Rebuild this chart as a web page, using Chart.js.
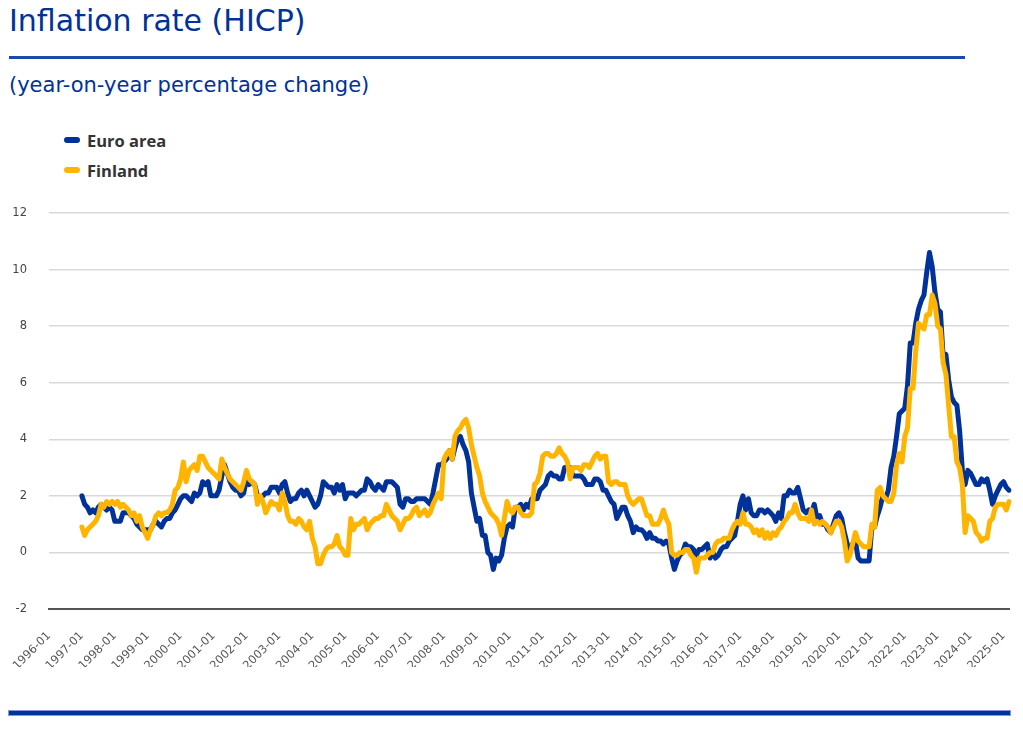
<!DOCTYPE html>
<html>
<head>
<meta charset="utf-8">
<script src="https://cdn.jsdelivr.net/npm/chart.js@4.4.1/dist/chart.umd.min.js"></script>
<style>
  html, body { margin:0; padding:0; background:#fff; width:1023px; height:732px; overflow:hidden; font-family:'DejaVu Sans', sans-serif; }
  #title { position:absolute; left:9px; top:6px; font-size:30px; line-height:1; color:#003299; white-space:nowrap; }
  #tline { position:absolute; left:9px; top:56px; width:956px; height:2.5px; background:#1c4aa8; }
  #sub { position:absolute; left:9px; top:75px; font-size:21px; line-height:1; color:#003299; white-space:nowrap; }
  .leg { position:absolute; left:64px; font-family:'Open Sans', sans-serif; font-size:16.5px; font-weight:bold; color:#333; white-space:nowrap; }
  .leg span.m { position:absolute; left:0; top:50%; width:16px; height:5.5px; margin-top:-2.75px; border-radius:3px; }
  .leg span.t { position:absolute; left:23px; top:50%; transform:translateY(-50%); }
  #chartbox { position:absolute; left:0; top:190px; width:1023px; height:477px; }
  #bline { position:absolute; left:9px; top:711px; width:1001px; height:4px; background:#003299; box-shadow:0 0 0 1px #7d9bd8; }
</style>
</head>
<body>
<div id="title">Inflation rate (HICP)</div>
<div id="tline"></div>
<div id="sub">(year-on-year percentage change)</div>
<div class="leg" style="top:130px;height:20px;width:120px"><span class="m" style="background:#003299"></span><span class="t">Euro area</span></div>
<div class="leg" style="top:160px;height:20px;width:120px"><span class="m" style="background:#ffb400"></span><span class="t">Finland</span></div>
<div id="chartbox"><canvas id="c"></canvas></div>
<div id="bline"></div>
<script>
// Axis starts 1996-01, data starts 1997-01, ends 2025-03
const startYear = 1996;
const endYear = 2025;
const endMonth = 3;
const seriesNames = ['Euro area', 'Finland'];
const yTicks = [-2, 0, 2, 4, 6, 8, 10, 12];

// Monthly year-on-year rates, 1997-01 .. 2025-03
const euroArea = [
  2.0,1.7,1.6,1.4,1.5,1.4,1.6,1.7,1.6,1.5,1.6,1.5,
  1.1,1.1,1.1,1.4,1.4,1.4,1.3,1.2,1.0,0.9,0.8,0.8,
  0.8,0.8,1.0,1.1,1.0,0.9,1.1,1.2,1.2,1.4,1.5,1.7,
  1.9,2.0,2.0,1.9,1.8,2.1,2.0,2.1,2.5,2.4,2.5,2.0,
  2.0,2.0,2.2,2.7,3.1,2.8,2.5,2.3,2.2,2.2,2.0,2.1,
  2.6,2.4,2.5,2.4,2.0,1.9,2.0,2.1,2.1,2.3,2.3,2.3,
  2.1,2.4,2.5,2.1,1.8,1.9,1.9,2.1,2.2,2.0,2.2,2.0,
  1.8,1.6,1.7,2.0,2.5,2.4,2.3,2.3,2.1,2.4,2.2,2.4,
  1.9,2.1,2.1,2.1,2.0,2.1,2.2,2.2,2.6,2.5,2.3,2.2,
  2.4,2.3,2.2,2.5,2.5,2.5,2.4,2.3,1.7,1.6,1.9,1.9,
  1.8,1.8,1.9,1.9,1.9,1.9,1.8,1.7,2.1,2.6,3.1,3.1,
  3.2,3.3,3.6,3.3,3.7,4.0,4.1,3.8,3.6,3.2,2.1,1.6,
  1.1,1.2,0.6,0.6,0.0,-0.1,-0.6,-0.2,-0.3,-0.1,0.5,0.9,
  1.0,0.9,1.6,1.6,1.7,1.5,1.7,1.6,1.9,1.9,1.9,2.2,
  2.3,2.4,2.7,2.8,2.7,2.7,2.6,2.6,3.0,3.0,3.0,2.7,
  2.7,2.7,2.7,2.6,2.4,2.4,2.4,2.6,2.6,2.5,2.2,2.2,
  2.0,1.8,1.7,1.2,1.4,1.6,1.6,1.3,1.1,0.7,0.9,0.8,
  0.8,0.7,0.5,0.7,0.5,0.5,0.4,0.4,0.3,0.4,0.3,-0.2,
  -0.6,-0.3,-0.1,0.0,0.3,0.2,0.2,0.1,-0.1,0.1,0.1,0.2,
  0.3,-0.2,0.0,-0.2,-0.1,0.1,0.2,0.2,0.4,0.5,0.6,1.1,
  1.7,2.0,1.5,1.9,1.4,1.3,1.3,1.5,1.5,1.4,1.5,1.4,
  1.3,1.1,1.4,1.2,2.0,2.0,2.2,2.1,2.1,2.3,1.9,1.5,
  1.4,1.5,1.4,1.7,1.2,1.3,1.0,1.0,0.8,0.7,1.0,1.3,
  1.4,1.2,0.7,0.3,0.1,0.3,0.4,-0.2,-0.3,-0.3,-0.3,-0.3,
  0.9,0.9,1.3,1.6,2.0,1.9,2.2,3.0,3.4,4.1,4.9,5.0,
  5.1,5.9,7.4,7.4,8.1,8.6,8.9,9.1,9.9,10.6,10.1,9.2,
  8.6,8.5,6.9,7.0,6.1,5.5,5.3,5.2,4.3,2.9,2.4,2.9,
  2.8,2.6,2.4,2.4,2.6,2.5,2.6,2.2,1.7,2.0,2.2,2.4,
  2.5,2.3,2.2
];
const finland = [
  0.9,0.6,0.8,0.9,1.0,1.1,1.3,1.7,1.6,1.8,1.7,1.8,
  1.7,1.8,1.6,1.7,1.6,1.5,1.3,1.4,1.1,1.3,0.9,0.7,
  0.5,0.8,1.0,1.3,1.4,1.3,1.4,1.4,1.5,1.7,2.2,2.3,
  2.6,3.2,2.5,2.9,3.0,3.1,2.9,3.4,3.4,3.2,3.0,2.9,
  2.8,2.7,2.6,3.3,3.0,2.8,2.6,2.5,2.4,2.3,2.2,2.5,
  2.9,2.6,2.5,2.4,1.7,2.0,1.8,1.4,1.6,1.8,1.7,1.7,
  1.5,2.1,1.8,1.3,1.1,1.1,1.0,1.2,1.1,0.9,0.8,1.1,
  0.5,0.2,-0.4,-0.4,-0.1,0.1,0.2,0.2,0.3,0.6,0.2,0.1,
  -0.1,-0.1,1.2,0.8,1.0,1.0,1.1,1.2,0.8,1.0,1.1,1.2,
  1.2,1.3,1.3,1.7,1.5,1.3,1.2,1.1,0.8,1.0,1.2,1.2,
  1.3,1.5,1.6,1.3,1.4,1.5,1.3,1.4,1.7,1.9,2.1,1.9,
  3.3,3.5,3.6,3.3,4.1,4.3,4.4,4.6,4.7,4.4,3.8,3.4,
  3.0,2.7,2.1,1.8,1.6,1.4,1.3,1.2,1.0,0.6,1.2,1.8,
  1.5,1.4,1.6,1.6,1.4,1.3,1.3,1.3,1.4,2.4,2.5,2.8,
  3.4,3.5,3.5,3.4,3.4,3.5,3.7,3.5,3.4,3.2,2.6,3.0,
  3.0,3.0,2.9,3.1,3.1,3.0,3.2,3.4,3.5,3.3,3.4,3.4,
  2.5,2.4,2.5,2.5,2.4,2.4,2.4,2.0,1.8,1.7,1.8,1.9,
  1.9,1.6,1.3,1.3,1.0,1.0,1.0,1.2,1.5,1.2,1.0,0.0,
  -0.1,-0.1,0.0,0.0,0.1,0.1,-0.1,-0.2,-0.7,-0.2,-0.2,-0.2,
  -0.1,0.0,0.0,0.3,0.4,0.4,0.5,0.5,0.5,0.8,1.0,1.1,
  1.0,1.4,1.0,1.0,0.9,0.7,0.8,0.6,0.8,0.5,0.7,0.5,
  0.7,0.6,0.8,0.9,1.1,1.2,1.4,1.4,1.7,1.4,1.2,1.2,
  1.2,1.1,1.5,1.0,1.1,1.0,1.1,1.0,0.9,0.7,0.9,1.1,
  1.1,0.9,0.4,-0.3,-0.1,0.3,0.7,0.4,0.3,0.2,0.2,0.2,
  1.0,0.9,2.2,2.3,2.0,1.9,1.8,1.8,2.1,3.1,3.5,3.2,
  4.1,4.4,5.8,5.8,7.1,8.1,8.0,7.9,8.4,8.4,9.1,8.8,
  8.0,7.9,6.7,6.3,5.2,4.1,4.1,3.2,3.0,2.4,0.7,1.3,
  1.2,1.1,0.7,0.6,0.4,0.5,0.5,1.1,1.2,1.6,1.7,1.7,
  1.7,1.5,1.8
];

// Category labels: every month from 1996-01 to 2025-03
const monthLabels = [];
for (let y = startYear; y <= endYear; y++) {
  for (let m = 1; m <= 12; m++) {
    if (y === endYear && m > endMonth) break;
    monthLabels.push(y + '-' + String(m).padStart(2, '0'));
  }
}
const lead = monthLabels.length - euroArea.length; // months before data begins
const pad = Array(lead).fill(null);

new Chart(document.getElementById('c'), {
  type: 'line',
  data: {
    labels: monthLabels,
    datasets: [
      { label: seriesNames[0], data: pad.concat(euroArea), borderColor: '#003299', backgroundColor: '#003299',
        borderWidth: 5, pointRadius: 0, tension: 0, order: 1, borderJoinStyle: 'round', borderCapStyle: 'round' },
      { label: seriesNames[1], data: pad.concat(finland), borderColor: '#ffb400', backgroundColor: '#ffb400',
        borderWidth: 5, pointRadius: 0, tension: 0, order: 0, borderJoinStyle: 'round', borderCapStyle: 'round' }
    ]
  },
  options: {
    responsive: true,
    maintainAspectRatio: false,
    animation: false,
    layout: { padding: { left: 0, right: 14, top: 23, bottom: 0 } },
    plugins: { legend: { display: false }, tooltip: { enabled: false } },
    scales: {
      x: {
        grid: { display: false, drawTicks: false },
        border: { display: true, color: '#555', width: 2 },
        ticks: {
          autoSkip: false, minRotation: 45, maxRotation: 45, padding: 20,
          color: '#555', font: { family: "'DejaVu Sans', sans-serif", size: 11.5 },
          callback: function (v) { const l = this.getLabelForValue(v); return l.endsWith('-01') ? l : null; }
        },
        afterFit: s => { s.height = 58; s.paddingLeft = 0; s.paddingRight = 0; }
      },
      y: {
        min: -2, max: 12,
        afterBuildTicks: s => { s.ticks = yTicks.map(v => ({ value: v })); },
        grid: { color: '#d9d9d9', lineWidth: 1.5, drawTicks: false },
        border: { display: false },
        ticks: { padding: 22, color: '#444', font: { family: "'DejaVu Sans', sans-serif", size: 11.5 } },
        afterFit: s => { s.width = 49; s.paddingTop = 0; s.paddingBottom = 0; }
      }
    }
  }
});
</script>
</body>
</html>
